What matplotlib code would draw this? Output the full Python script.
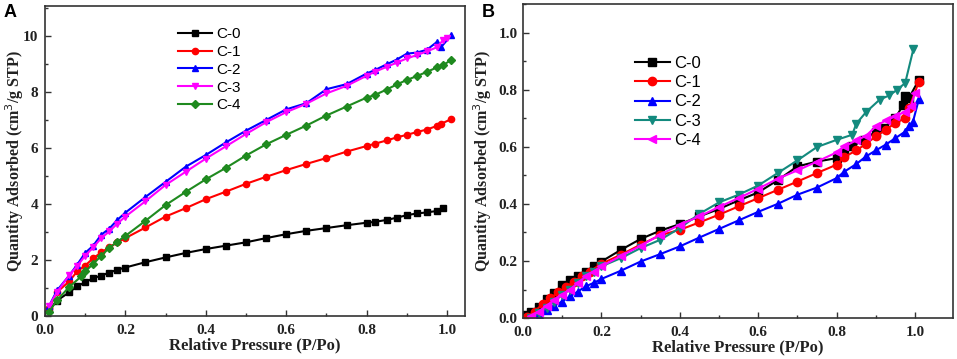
import matplotlib
matplotlib.use("Agg")
import matplotlib.pyplot as plt
from matplotlib.ticker import MultipleLocator, FormatStrFormatter

# ---------------- Panel A data ----------------
a_c0_x = [0.01, 0.03, 0.06, 0.08, 0.10, 0.12, 0.14, 0.16, 0.18, 0.20, 0.25, 0.30, 0.35, 0.40, 0.45, 0.50,
          0.55, 0.60, 0.65, 0.70, 0.75, 0.80, 0.82, 0.85, 0.875, 0.90, 0.925, 0.95, 0.975, 0.99]
a_c0_y = [0.20, 0.55, 0.84, 1.06, 1.20, 1.35, 1.44, 1.55, 1.65, 1.73, 1.92, 2.09, 2.25, 2.39, 2.51, 2.63,
          2.78, 2.92, 3.04, 3.14, 3.24, 3.33, 3.36, 3.43, 3.51, 3.60, 3.66, 3.70, 3.75, 3.87]

a_c1_x = [0.01, 0.03, 0.06, 0.08, 0.10, 0.12, 0.14, 0.16, 0.18, 0.20, 0.25, 0.30, 0.35, 0.40, 0.45, 0.50,
          0.55, 0.60, 0.65, 0.70, 0.75, 0.80, 0.82, 0.85, 0.875, 0.90, 0.925, 0.95, 0.975, 0.985, 1.01]
a_c1_y = [0.30, 0.85, 1.23, 1.59, 1.80, 2.06, 2.27, 2.45, 2.63, 2.78, 3.16, 3.55, 3.85, 4.17, 4.44, 4.72,
          4.97, 5.21, 5.43, 5.64, 5.87, 6.07, 6.15, 6.27, 6.38, 6.47, 6.57, 6.66, 6.79, 6.86, 7.03]

a_c2_x = [0.01, 0.03, 0.06, 0.08, 0.10, 0.12, 0.14, 0.16, 0.18, 0.20, 0.25, 0.30, 0.35, 0.40, 0.45, 0.50,
          0.55, 0.60, 0.65, 0.70, 0.75, 0.80, 0.82, 0.85, 0.875, 0.90, 0.925, 0.95, 0.975, 0.985, 1.01]
a_c2_y = [0.35, 0.91, 1.44, 1.83, 2.25, 2.51, 2.90, 3.12, 3.43, 3.69, 4.25, 4.79, 5.33, 5.75, 6.20, 6.62,
          7.00, 7.38, 7.60, 8.10, 8.28, 8.66, 8.78, 8.99, 9.16, 9.37, 9.41, 9.51, 9.79, 9.60, 10.02]

a_c3_x = [0.01, 0.03, 0.06, 0.08, 0.10, 0.12, 0.14, 0.16, 0.18, 0.20, 0.25, 0.30, 0.35, 0.40, 0.45, 0.50,
          0.55, 0.60, 0.65, 0.70, 0.75, 0.80, 0.82, 0.85, 0.875, 0.90, 0.925, 0.95, 0.975, 0.99, 1.00]
a_c3_y = [0.35, 0.85, 1.45, 1.78, 2.15, 2.45, 2.78, 3.02, 3.30, 3.55, 4.10, 4.68, 5.15, 5.62, 6.06, 6.50,
          6.92, 7.28, 7.58, 7.95, 8.22, 8.58, 8.72, 8.90, 9.05, 9.20, 9.32, 9.45, 9.60, 9.85, 9.92]

a_c4_x = [0.01, 0.03, 0.06, 0.09, 0.10, 0.12, 0.14, 0.16, 0.18, 0.20, 0.25, 0.30, 0.35, 0.40, 0.45, 0.50,
          0.55, 0.60, 0.65, 0.70, 0.75, 0.80, 0.82, 0.85, 0.875, 0.90, 0.925, 0.95, 0.975, 0.99, 1.01]
a_c4_y = [0.15, 0.56, 1.03, 1.41, 1.59, 1.86, 2.15, 2.43, 2.65, 2.86, 3.40, 3.96, 4.43, 4.88, 5.29, 5.73,
          6.13, 6.47, 6.80, 7.16, 7.48, 7.80, 7.89, 8.09, 8.27, 8.43, 8.57, 8.72, 8.88, 8.96, 9.14]

# ---------------- Panel B data ----------------
b_c0_x = [0.01, 0.02, 0.04, 0.06, 0.08, 0.10, 0.12, 0.14, 0.16, 0.18, 0.20, 0.25, 0.30, 0.35, 0.40, 0.45,
          0.50, 0.55, 0.60, 0.65, 0.70, 0.75, 0.80, 0.82, 0.84, 0.87, 0.90, 0.92, 0.95, 0.97, 0.975, 0.985, 1.01]
b_c0_y = [0.010, 0.020, 0.040, 0.067, 0.088, 0.117, 0.132, 0.148, 0.163, 0.181, 0.198, 0.239, 0.277, 0.306,
          0.329, 0.356, 0.382, 0.412, 0.440, 0.483, 0.531, 0.548, 0.560, 0.583, 0.601, 0.625, 0.653, 0.665,
          0.700, 0.747, 0.776, 0.772, 0.834]

b_c1_x = [0.01, 0.03, 0.05, 0.07, 0.09, 0.11, 0.13, 0.15, 0.17, 0.20, 0.25, 0.30, 0.35, 0.40, 0.45, 0.50,
          0.55, 0.60, 0.65, 0.70, 0.75, 0.80, 0.82, 0.85, 0.875, 0.90, 0.925, 0.95, 0.975, 0.985, 1.01]
b_c1_y = [0.005, 0.023, 0.050, 0.070, 0.090, 0.108, 0.128, 0.146, 0.163, 0.190, 0.222, 0.257, 0.290, 0.309,
          0.335, 0.362, 0.391, 0.420, 0.449, 0.478, 0.508, 0.537, 0.564, 0.587, 0.610, 0.636, 0.659, 0.683,
          0.700, 0.735, 0.828]

b_c2_x = [0.02, 0.04, 0.06, 0.08, 0.10, 0.12, 0.14, 0.16, 0.18, 0.20, 0.25, 0.30, 0.35, 0.40, 0.45, 0.50,
          0.55, 0.60, 0.65, 0.70, 0.75, 0.80, 0.82, 0.85, 0.875, 0.90, 0.925, 0.95, 0.975, 0.985, 0.995, 1.01]
b_c2_y = [0.000, 0.010, 0.030, 0.043, 0.058, 0.076, 0.093, 0.111, 0.123, 0.137, 0.166, 0.198, 0.224, 0.251,
          0.282, 0.312, 0.342, 0.372, 0.400, 0.432, 0.457, 0.490, 0.513, 0.539, 0.566, 0.587, 0.607, 0.630,
          0.653, 0.673, 0.688, 0.767]

b_c3_x = [0.02, 0.04, 0.06, 0.08, 0.10, 0.12, 0.14, 0.16, 0.18, 0.20, 0.25, 0.30, 0.35, 0.40, 0.45, 0.50,
          0.55, 0.60, 0.65, 0.70, 0.75, 0.80, 0.84, 0.85, 0.875, 0.91, 0.935, 0.955, 0.975, 0.996]
b_c3_y = [0.000, 0.018, 0.035, 0.058, 0.082, 0.100, 0.123, 0.146, 0.163, 0.181, 0.210, 0.245, 0.274, 0.315,
          0.365, 0.405, 0.432, 0.464, 0.508, 0.552, 0.599, 0.624, 0.642, 0.680, 0.721, 0.765, 0.780, 0.800,
          0.823, 0.942]

b_c4_x = [0.02, 0.04, 0.06, 0.08, 0.10, 0.12, 0.14, 0.16, 0.18, 0.20, 0.25, 0.30, 0.35, 0.40, 0.45, 0.50,
          0.55, 0.60, 0.65, 0.70, 0.75, 0.80, 0.82, 0.85, 0.875, 0.90, 0.925, 0.95, 0.975, 0.99, 1.00]
b_c4_y = [0.006, 0.023, 0.043, 0.064, 0.082, 0.100, 0.123, 0.146, 0.163, 0.181, 0.218, 0.253, 0.292, 0.327,
          0.356, 0.389, 0.420, 0.453, 0.488, 0.517, 0.548, 0.580, 0.601, 0.622, 0.638, 0.671, 0.692, 0.706,
          0.723, 0.743, 0.788]

labels = ["C-0", "C-1", "C-2", "C-3", "C-4"]

serif = ["Liberation Serif", "DejaVu Serif"]
sans = ["Liberation Sans", "DejaVu Sans"]

fig = plt.figure(figsize=(9.57, 3.59), dpi=100)
axA = fig.add_axes([0.047, 0.12, 0.439, 0.863])
axB = fig.add_axes([0.5465, 0.114, 0.4493, 0.875])

lw = 1.5

seriesA = [
    (a_c0_x, a_c0_y, "black", "s", 4.5),
    (a_c1_x, a_c1_y, "red", "o", 4.5),
    (a_c2_x, a_c2_y, "blue", "^", 5),
    (a_c3_x, a_c3_y, "magenta", "v", 5),
    (a_c4_x, a_c4_y, "#1f8a1f", "D", 4),
]
for (x, y, c, m, s), lab in zip(seriesA, labels):
    axA.plot(x, y, color=c, marker=m, ms=s, lw=lw, label=lab)

seriesB = [
    (b_c0_x, b_c0_y, "black", "s"),
    (b_c1_x, b_c1_y, "red", "o"),
    (b_c2_x, b_c2_y, "blue", "^"),
    (b_c3_x, b_c3_y, "#138a7e", "v"),
    (b_c4_x, b_c4_y, "magenta", "<"),
]
for (x, y, c, m), lab in zip(seriesB, labels):
    axB.plot(x, y, color=c, marker=m, ms=6, lw=lw, label=lab)

axA.set_xlim(0, 1.045)
axA.set_ylim(0, 11.07)
axA.xaxis.set_major_locator(MultipleLocator(0.2))
axA.xaxis.set_minor_locator(MultipleLocator(0.1))
axA.yaxis.set_major_locator(MultipleLocator(2))
axA.yaxis.set_minor_locator(MultipleLocator(1))

axB.set_xlim(0, 1.097)
axB.set_ylim(0, 1.10)
axB.xaxis.set_major_locator(MultipleLocator(0.2))
axB.xaxis.set_minor_locator(MultipleLocator(0.1))
axB.yaxis.set_major_locator(MultipleLocator(0.2))
axB.yaxis.set_minor_locator(MultipleLocator(0.1))

for ax in (axA, axB):
    for s in ax.spines.values():
        s.set_color("#333333")
        s.set_linewidth(1.2)
    ax.tick_params(which="both", direction="in", colors="#333333", width=1.0)
    ax.tick_params(which="major", length=4.5)
    ax.tick_params(which="minor", length=2.5)
    ax.tick_params(axis="both", labelsize=11, labelcolor="#222222")
    ax.tick_params(axis="x", pad=6)
    ax.tick_params(axis="y", pad=5)
    for t in ax.get_xticklabels() + ax.get_yticklabels():
        t.set_family(serif)
        t.set_fontweight("bold")
    ax.set_xlabel("Relative Pressure (P/Po)", family=serif, fontweight="bold", fontsize=12,
                  color="#222222", labelpad=0)
    ax.set_ylabel("Quantity Adsorbed (cm$^3$/g STP)", family=serif, fontweight="bold", fontsize=11.5,
                  color="#222222", va="center")

axB.tick_params(axis="y", pad=4)
axA.yaxis.set_label_coords(-0.072, 0.5)
axB.yaxis.set_label_coords(-0.093, 0.5)

axA.yaxis.set_major_formatter(FormatStrFormatter("%d"))
axA.xaxis.set_major_formatter(FormatStrFormatter("%.1f"))
axB.xaxis.set_major_formatter(FormatStrFormatter("%.1f"))
axB.yaxis.set_major_formatter(FormatStrFormatter("%.1f"))

legA = axA.legend(loc="upper left", bbox_to_anchor=(0.302, 0.952), frameon=False,
                  prop={"family": sans, "size": 11}, handlelength=2.2, handletextpad=0.3,
                  labelspacing=0.25, borderaxespad=0)
legB = axB.legend(loc="upper left", bbox_to_anchor=(0.244, 0.855), frameon=False,
                  prop={"family": sans, "size": 12}, handlelength=2.1, handletextpad=0.3,
                  labelspacing=0.25, borderaxespad=0)

fig.text(0.004, 0.99, "A", family=sans, fontweight="bold", fontsize=13, va="top", ha="left")
fig.text(0.503, 0.99, "B", family=sans, fontweight="bold", fontsize=13, va="top", ha="left")

fig.savefig("out.png", dpi=100)
